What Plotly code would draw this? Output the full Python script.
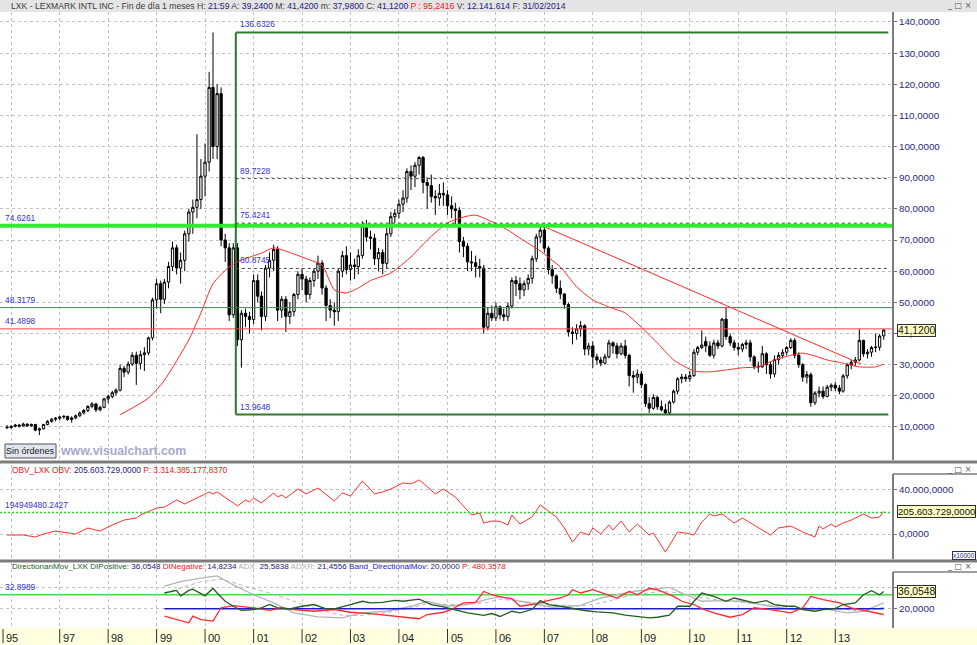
import plotly.graph_objects as go
import pandas as pd

# ---------------- DATA (monthly candles, Dec 1995 .. Jan 2014) ----------------
first_month = "1995-12-01"

opens = [
 10.0,
 9.8, 10.2, 10.6, 10.3, 10.9, 10.4, 10.8, 9.0, 9.4, 10.8, 11.8, 12.5,        # 1996
 12.8, 13.2, 13.4, 12.4, 12.9, 13.6, 14.5, 15.3, 16.6, 17.4, 15.5, 16.3,     # 1997
 19.0, 19.8, 21.0, 21.8, 28.8, 27.6, 30.2, 33.0, 30.4, 33.2, 33.8, 38.6,     # 1998
 50.8, 56.0, 51.0, 56.5, 61.5, 67.5, 61.0, 63.5, 72.0, 79.0, 80.5, 83.0,     # 1999
 90.5, 95, 119, 100, 117, 70, 67.5, 46, 67.5, 38, 46.5, 45.5,                # 2000
 44.5, 57, 52, 45.5, 61, 63.5, 67, 47.5, 51, 45.5, 47, 52.5,                 # 2001
 59, 57.5, 52.5, 57, 60, 62.6, 54.6, 49, 47.5, 47, 60, 65,                   # 2002
 60.5, 62, 61.5, 65, 74.5, 71, 70.6, 64, 66, 62.5, 72, 77.5,                 # 2003
 78.6, 81.5, 83.5, 92, 90.5, 94, 96.5, 88.5, 87.5, 84, 83.5, 85,             # 2004
 84.5, 81, 80, 79.5, 69.5, 68, 63, 62.7, 61.5, 61, 42, 46.5,                 # 2005
 45, 48.6, 46, 45.4, 48.8, 57, 56, 54, 56, 57.7, 64, 71,                     # 2006
 73.2, 67.4, 60.5, 58.5, 54.5, 52.7, 49.3, 40.5, 40, 41.5, 42.5, 35,         # 2007
 36, 32.5, 31.5, 30.5, 32.5, 37, 36, 33.5, 36, 33, 26.5, 26,                 # 2008
 27, 23.6, 17.5, 16, 19.5, 16.5, 15.5, 14.5, 18, 21.5, 25.5, 26,             # 2009
 25.5, 26.5, 34, 35.5, 37.5, 36, 33, 37, 36, 44.6, 39, 37,                   # 2010
 35.5, 35, 36.5, 37, 32.5, 29.5, 29.3, 33.5, 30, 27, 31.6, 33,               # 2011
 34, 35.5, 37.8, 33, 30, 26, 26.8, 17.8, 20.9, 21.5, 19.8, 22.8,             # 2012
 23.4, 22.5, 21.5, 26.4, 30, 30.8, 31.5, 37.8, 33.5, 34, 35.5, 35.6,         # 2013
 39.24]                                                                      # 2014-01

highs = [
 10.6,
 10.6, 11.0, 11.0, 11.4, 11.2, 11.1, 11.0, 9.8, 11.0, 12.2, 12.8, 13.2,
 13.6, 13.8, 13.6, 13.4, 14.0, 15.0, 15.8, 17.0, 18.0, 17.8, 16.8, 19.4,
 20.4, 21.6, 22.4, 30.0, 29.6, 31.0, 34.0, 34.2, 34.5, 35.6, 39.0, 51.5,
 57.5, 57.0, 57.5, 63.0, 69.5, 68.5, 66.0, 73.0, 80.0, 83.0, 104.0, 96.0,
 101, 124, 136.63, 120, 119, 72, 69, 69, 69, 47.5, 48, 47,
 59, 59, 53.5, 62, 66, 68.5, 68, 52, 52, 50, 53, 60,
 61, 58.5, 58, 61, 65, 63.5, 55.5, 51, 50, 61, 66.5, 68,
 66, 64, 67, 76, 76.5, 73, 72, 67.5, 67, 74, 79, 80,
 83, 86, 93, 94, 95, 97, 97, 90, 91, 86, 88, 88.5,
 86, 84, 82, 80.5, 71, 69, 66.5, 65, 64, 62, 48.5, 49,
 50, 49, 48, 50, 58, 58.5, 58, 57, 59, 65, 72, 74.6,
 74.6, 68, 62, 59, 57, 53, 50, 42, 43, 44, 43, 37,
 37.5, 33.5, 32.5, 33.5, 38, 37.5, 37, 37, 38, 33.5, 28, 28.5,
 28, 24, 19.6, 20.5, 20, 18.5, 17.5, 18.5, 22, 26, 27, 27,
 28, 35, 36, 41, 39, 37.5, 38, 38, 45, 48.32, 40, 38,
 37, 37, 38, 38, 33, 31, 36, 34, 31, 33, 34, 35,
 36, 38.5, 38.5, 34, 30.5, 28, 27.5, 21.5, 23, 23, 23.5, 24,
 24.5, 23.5, 27, 30.5, 31.5, 32.5, 41.5, 38, 35, 36, 40, 39.8,
 41.42]

lows = [
 9.3,
 9.4, 9.9, 9.8, 10.1, 10.0, 10.0, 8.6, 7.4, 9.2, 10.5, 11.4, 11.8,
 12.2, 12.6, 12.0, 11.4, 12.5, 13.2, 14.0, 14.8, 16.0, 14.8, 15.0, 16.0,
 17.6, 19.2, 20.2, 21.4, 26.0, 26.8, 29.6, 23.5, 28.5, 28.0, 33.0, 37.8,
 48, 46.5, 49.5, 54.5, 60, 59, 56, 60, 69.5, 72, 77, 80,
 84, 92, 96, 96, 68, 63, 44, 45, 36, 29, 42, 40,
 43, 50, 41, 44, 58, 60, 44, 45, 40.5, 43, 45.5, 51,
 54, 50, 51, 55, 57.5, 52.5, 44, 45, 42.5, 44, 58, 59,
 57, 57.5, 59, 64, 69.5, 67, 62, 60, 59, 61, 71, 75.5,
 77, 79, 82, 86, 87, 91, 85, 80, 82, 78, 81, 81,
 78, 77, 75, 66, 64.5, 60, 60, 58, 58, 40, 41, 44,
 44, 44.5, 44, 44, 48, 52, 51, 52, 54, 56, 63, 69,
 66, 59, 56, 53, 51, 48, 39, 36.5, 38, 39, 33, 33,
 29, 30, 29.5, 30, 32, 33.5, 32, 33, 32, 23, 21, 24,
 22.5, 16.5, 14.5, 15.5, 15.5, 15, 13.96, 14, 17.5, 20.5, 24, 24.5,
 24.5, 26, 33, 35, 34, 32.5, 32, 35, 35.5, 38, 36, 34.5,
 33, 34, 35, 31, 28.5, 27.5, 29, 27, 25.5, 26, 30, 32,
 33, 35, 32, 29, 24.5, 24, 16.5, 17, 19.5, 19, 19.5, 21.5,
 21.5, 20.5, 21, 25.5, 28.5, 29.5, 31, 32.5, 32, 32.5, 34, 34.5,
 37.98]

closes = [
 9.8,
 10.2, 10.6, 10.3, 10.9, 10.4, 10.8, 9.0, 9.4, 10.8, 11.8, 12.5, 12.8,
 13.2, 13.4, 12.4, 12.9, 13.6, 14.5, 15.3, 16.6, 17.4, 15.5, 16.3, 19.0,
 19.8, 21.0, 21.8, 28.8, 27.6, 30.2, 33.0, 30.4, 33.2, 33.8, 38.6, 50.8,
 56.0, 51.0, 56.5, 61.5, 67.5, 61.0, 63.5, 72.0, 79.0, 80.5, 83.0, 90.5,
 95, 119, 100, 117, 70, 67.5, 46, 67.5, 38, 46.5, 45.5, 44.5,
 57, 52, 45.5, 61, 63.5, 67, 47.5, 51, 45.5, 47, 52.5, 59,
 57.5, 52.5, 57, 60, 62.6, 54.6, 49, 47.5, 47, 60, 65, 60.5,
 62, 61.5, 65, 74.5, 71, 70.6, 64, 66, 62.5, 72, 77.5, 78.6,
 81.5, 83.5, 92, 90.5, 94, 96.5, 88.5, 87.5, 84, 83.5, 85, 84.5,
 81, 80, 79.5, 69.5, 68, 63, 62.7, 61.5, 61, 42, 46.5, 45,
 48.6, 46, 45.4, 48.8, 57, 56, 54, 56, 57.7, 64, 71, 73.2,
 67.4, 60.5, 58.5, 54.5, 52.7, 49.3, 40.5, 40, 41.5, 42.5, 35, 36,
 32.5, 31.5, 30.5, 32.5, 37, 36, 33.5, 36, 33, 26.5, 26, 27,
 23.6, 17.5, 16, 19.5, 16.5, 15.5, 14.5, 18, 21.5, 25.5, 26, 25.5,
 26.5, 34, 35.5, 36.3, 36, 33, 37, 36, 44.6, 39, 37, 35.5,
 35, 36.5, 37, 32.5, 29.5, 29.3, 33.5, 30, 27, 31.6, 33, 34,
 35.5, 37.8, 33, 30, 26, 26.8, 17.8, 20.9, 21.5, 19.8, 22.8, 23.4,
 22.5, 21.5, 26.4, 30, 30.8, 31.5, 37.8, 33.5, 34, 35.5, 35.6, 39.2,
 41.12]

# moving average (month, value)
ma_line = [("1998-04", 13.9), ("1998-11", 19.3), ("1999-03", 25), ("1999-09", 38), ("1999-12", 46.6),
           ("2000-03", 56), ("2000-07", 61.4), ("2000-10", 63.6), ("2001-03", 65.8), ("2001-06", 67.5),
           ("2001-10", 66), ("2002-03", 63.6), ("2002-06", 62), ("2002-09", 54), ("2002-12", 53),
           ("2003-03", 54.6), ("2003-06", 57), ("2003-11", 59.4), ("2004-04", 64.6), ("2004-08", 70),
           ("2005-01", 75.5), ("2005-05", 77.4), ("2005-08", 78), ("2005-11", 76.5), ("2006-04", 73.2),
           ("2006-07", 70.6), ("2006-12", 66.5), ("2007-03", 63.5), ("2007-05", 61.4), ("2007-09", 55),
           ("2008-01", 50.8), ("2008-05", 48.5), ("2008-09", 46.6), ("2009-01", 42), ("2009-05", 37),
           ("2009-09", 31.5), ("2010-02", 28), ("2010-06", 27.7), ("2010-10", 28.3), ("2011-02", 29),
           ("2011-06", 29.3), ("2011-10", 31.5), ("2012-02", 33), ("2012-05", 33.7), ("2012-08", 32.8),
           ("2012-11", 31.5), ("2013-03", 30.5), ("2013-07", 29.3), ("2013-11", 29.3), ("2014-01", 30.2)]

trend_line = [("2006-12-15", 74.6), ("2013-07-15", 30.2)]

# horizontal levels
level_green = 74.6261
level_teal = 48.3179
level_red = 41.4898
box_high = 136.6326
box_low = 13.9648
fib_levels = [89.7228, 75.4241, 60.8745]
box_start = "2000-08-20"
box_end = "2014-02-05"
last_close = 41.12

# OBV (millions of shares)
obv = [("1995-12", -9), ("1996-04", -9), ("1996-07", -27), ("1996-09", 0), ("1996-12", 27), ("1997-02", 18),
       ("1997-05", 0), ("1997-08", 55), ("1997-11", 27), ("1998-02", 82), ("1998-05", 127), ("1998-08", 145),
       ("1998-09", 173), ("1999-01", 236), ("1999-03", 245), ("1999-06", 309), ("1999-08", 273), ("1999-11", 327),
       ("2000-02", 382), ("2000-03", 364), ("2000-04", 382), ("2000-08", 282), ("2000-09", 255), ("2000-11", 309),
       ("2000-12", 291), ("2001-01", 327), ("2001-03", 282), ("2001-06", 373), ("2001-07", 336), ("2001-08", 355),
       ("2001-09", 327), ("2001-12", 409), ("2002-02", 364), ("2002-05", 418), ("2002-08", 336), ("2002-09", 300),
       ("2002-11", 373), ("2003-01", 345), ("2003-04", 482), ("2003-07", 364), ("2003-09", 382), ("2003-11", 409),
       ("2004-02", 464), ("2004-04", 455), ("2004-06", 491), ("2004-07", 464), ("2004-10", 364), ("2004-12", 409),
       ("2005-03", 336), ("2005-07", 173), ("2005-09", 191), ("2005-10", 100), ("2005-12", 118), ("2006-02", 115),
       ("2006-04", 82), ("2006-05", 173), ("2006-07", 91), ("2006-10", 155), ("2006-12", 264), ("2007-04", 155),
       ("2007-06", 55), ("2007-08", -73), ("2007-10", 18), ("2007-12", -9), ("2008-01", 55), ("2008-03", 0),
       ("2008-05", 82), ("2008-06", 36), ("2008-08", 118), ("2008-10", 18), ("2008-12", 91), ("2009-03", -9),
       ("2009-04", 9), ("2009-07", -164), ("2009-10", 18), ("2009-12", 9), ("2010-02", -9), ("2010-04", 109),
       ("2010-06", 182), ("2010-07", 164), ("2010-09", 182), ("2010-12", 100), ("2011-02", 145), ("2011-06", 55),
       ("2011-09", -9), ("2011-11", 55), ("2012-02", 73), ("2012-05", 18), ("2012-08", -27), ("2012-09", 73),
       ("2012-10", 45), ("2012-12", 91), ("2013-01", 64), ("2013-03", 100), ("2013-05", 127), ("2013-08", 182),
       ("2013-10", 145), ("2013-12", 155), ("2014-01", 205.6)]
obv_level = 194.9494802427

# Directional movement
di_plus = [("1999-03", 34.6), ("1999-06", 37), ("1999-07", 32), ("1999-09", 37), ("1999-10", 38.2), ("2000-01", 32),
           ("2000-03", 39), ("2000-04", 34.6), ("2000-06", 27), ("2000-08", 22.4), ("2000-10", 18.7), ("2001-01", 19.4),
           ("2001-03", 21), ("2001-05", 24), ("2001-07", 21), ("2001-10", 20), ("2002-01", 22.4), ("2002-04", 24),
           ("2002-07", 20), ("2002-09", 20), ("2003-01", 24), ("2003-04", 27), ("2003-06", 25.5), ("2003-09", 26),
           ("2003-12", 27.8), ("2004-02", 27), ("2004-06", 29), ("2004-09", 24), ("2004-12", 21.8), ("2005-03", 19.4),
           ("2005-06", 16.4), ("2005-10", 14), ("2005-12", 15.7), ("2006-02", 13), ("2006-05", 17.8), ("2006-07", 16.4),
           ("2006-10", 19.4), ("2006-12", 27.6), ("2007-02", 24), ("2007-05", 22.4), ("2007-09", 19.4), ("2007-11", 18.5),
           ("2008-02", 17.3), ("2008-06", 16.4), ("2008-09", 14.2), ("2008-12", 13.3), ("2009-03", 11.8), ("2009-05", 12.3),
           ("2009-08", 14.2), ("2009-10", 22.4), ("2010-01", 22.4), ("2010-02", 27), ("2010-04", 34.6), ("2010-07", 31.5),
           ("2010-10", 27), ("2010-12", 30), ("2011-03", 27), ("2011-05", 25.5), ("2011-08", 27.6), ("2011-10", 24),
           ("2012-01", 22.4), ("2012-03", 22.4), ("2012-05", 19.4), ("2012-08", 17.8), ("2012-10", 19.4), ("2013-01", 20.3),
           ("2013-03", 24), ("2013-06", 25.5), ("2013-08", 33), ("2013-10", 36.7), ("2013-12", 33), ("2014-01", 36.0548)]
di_minus = [("1999-03", 13.3), ("1999-06", 10.2), ("1999-09", 7.2), ("1999-10", 13.3), ("1999-12", 10.2), ("2000-03", 8.7),
            ("2000-05", 21), ("2000-08", 23), ("2000-10", 22.4), ("2001-01", 21), ("2001-05", 18.7), ("2001-08", 21),
            ("2001-11", 19.4), ("2002-04", 17.8), ("2002-09", 19.4), ("2003-01", 16.9), ("2003-06", 15.7), ("2003-10", 14),
            ("2004-02", 12.7), ("2004-06", 10.9), ("2004-08", 14.8), ("2004-12", 16.9), ("2005-02", 19.4), ("2005-05", 25.5),
            ("2005-08", 26), ("2005-10", 36), ("2005-12", 33), ("2006-02", 31), ("2006-05", 29.4), ("2006-07", 22.4),
            ("2006-11", 24.6), ("2007-01", 27), ("2007-05", 30), ("2007-07", 33), ("2007-08", 37.6), ("2007-10", 34.6),
            ("2008-01", 37.6), ("2008-04", 33.7), ("2008-07", 30), ("2008-10", 36), ("2008-12", 33), ("2009-03", 39),
            ("2009-05", 37.6), ("2009-09", 31.5), ("2009-11", 27), ("2010-02", 24), ("2010-04", 20.3), ("2010-07", 16.4),
            ("2010-11", 12.3), ("2011-02", 14.8), ("2011-05", 21), ("2011-09", 19.4), ("2011-12", 17.3), ("2012-02", 16.4),
            ("2012-05", 21), ("2012-07", 31.5), ("2012-10", 28.5), ("2013-02", 25.5), ("2013-05", 21), ("2013-08", 18.5),
            ("2013-10", 17.3), ("2013-12", 15.4), ("2014-01", 14.8234)]
adx = [("1999-03", 41), ("1999-07", 45), ("1999-12", 48.3), ("2000-04", 50.4), ("2000-08", 42), ("2001-01", 33),
       ("2001-06", 25.5), ("2001-11", 16.4), ("2002-05", 12.7), ("2002-11", 11.8), ("2003-04", 16.4), ("2003-10", 17.8),
       ("2004-04", 22.4), ("2004-08", 27), ("2005-01", 22.4), ("2005-06", 24), ("2005-11", 29), ("2006-02", 31.3),
       ("2006-07", 27), ("2007-03", 21.5), ("2007-10", 23.3), ("2008-03", 30), ("2008-11", 36), ("2009-08", 39.7),
       ("2009-12", 33), ("2010-04", 27), ("2010-09", 27.6), ("2011-02", 27), ("2011-09", 22.4), ("2012-03", 19.4),
       ("2012-10", 20.3), ("2013-04", 16.4), ("2013-08", 17.8), ("2013-11", 22.4), ("2014-01", 25.5838)]
adxr = [("1999-03", 34.6), ("1999-07", 39), ("1999-12", 45), ("2000-05", 47.3), ("2000-10", 42), ("2001-05", 34.6),
        ("2001-11", 27), ("2002-05", 19.4), ("2002-11", 14), ("2003-04", 14), ("2003-10", 16.4), ("2004-04", 21),
        ("2004-08", 24.8), ("2005-01", 24), ("2005-06", 24), ("2005-11", 26), ("2006-02", 29), ("2006-07", 27),
        ("2007-03", 24), ("2007-10", 22.4), ("2008-03", 25.5), ("2008-11", 33), ("2009-06", 36), ("2009-11", 34.6),
        ("2010-04", 30), ("2010-11", 27), ("2011-05", 24.6), ("2011-12", 22.4), ("2012-06", 21), ("2013-01", 20.3),
        ("2013-08", 17.8), ("2014-01", 21.4556)]
band_value = 20.0
band_span = ["1999-03", "2014-01"]
dmi_level = 32.8989

year_ticks = ["1995-11-01"] + [f"{y}-01-01" for y in range(1997, 2014)]
year_labels = ["95", "97", "98", "99", "00", "01", "02", "03", "04", "05", "06", "07", "08", "09", "10", "11", "12", "13"]
grid_years = [f"{y}-01-01" for y in range(1996, 2014)]

# ---------------- FIGURE ----------------
W, H, PLOT_W = 977, 645, 893
FONT = "Liberation Sans, Arial, sans-serif"
BLUE = "#3434d2"
NAVY = "#2b2b7e"
XR = W / PLOT_W


def py(pix):
    return 1 - pix / H


def pxp(pix):
    return pix / PLOT_W


months = pd.date_range(first_month, periods=len(closes), freq="MS")

fig = go.Figure()
fig.add_trace(go.Candlestick(
    x=months, open=opens, high=highs, low=lows, close=closes,
    increasing=dict(line=dict(color="black", width=1), fillcolor="white"),
    decreasing=dict(line=dict(color="black", width=1), fillcolor="black"),
    whiskerwidth=0, hoverinfo="skip", xaxis="x", yaxis="y"))

fig.add_trace(go.Scatter(x=[d for d, _ in ma_line], y=[v for _, v in ma_line], mode="lines",
                         line=dict(color="#ff2a2a", width=1, shape="spline", smoothing=0.6),
                         hoverinfo="skip", xaxis="x", yaxis="y"))
fig.add_trace(go.Scatter(x=[d for d, _ in trend_line], y=[v for _, v in trend_line], mode="lines",
                         line=dict(color="#ff2a2a", width=1), hoverinfo="skip", xaxis="x", yaxis="y"))

fig.add_trace(go.Scatter(x=[d for d, _ in obv], y=[v for _, v in obv], mode="lines",
                         line=dict(color="#ff3030", width=1), hoverinfo="skip", xaxis="x", yaxis="y2"))

fig.add_trace(go.Scatter(x=[d for d, _ in adxr], y=[v for _, v in adxr], mode="lines",
                         line=dict(color="#b8b8b8", width=1, dash="4px,3px"), hoverinfo="skip", xaxis="x", yaxis="y3"))
fig.add_trace(go.Scatter(x=[d for d, _ in adx], y=[v for _, v in adx], mode="lines",
                         line=dict(color="#b4b4b4", width=1.3), hoverinfo="skip", xaxis="x", yaxis="y3"))
fig.add_trace(go.Scatter(x=band_span, y=[band_value, band_value], mode="lines",
                         line=dict(color="#1c1cc8", width=1.5), hoverinfo="skip", xaxis="x", yaxis="y3"))
fig.add_trace(go.Scatter(x=[d for d, _ in di_minus], y=[v for _, v in di_minus], mode="lines",
                         line=dict(color="#ff2a2a", width=1.3), hoverinfo="skip", xaxis="x", yaxis="y3"))
fig.add_trace(go.Scatter(x=[d for d, _ in di_plus], y=[v for _, v in di_plus], mode="lines",
                         line=dict(color="#1f5f1f", width=1.3), hoverinfo="skip", xaxis="x", yaxis="y3"))

shapes = []
annotations = []

# title bar
shapes.append(dict(type="rect", xref="paper", yref="paper", x0=0, x1=XR, y0=py(12), y1=1,
                   fillcolor="#e4e4e4", line=dict(width=0), layer="above"))
# main panel levels (drawn over the candles, as in the reference)
shapes.append(dict(type="line", xref="paper", yref="y", x0=0, x1=1, y0=level_teal, y1=level_teal,
                   line=dict(color="#3d8a5a", width=1), layer="above"))
shapes.append(dict(type="line", xref="paper", yref="y", x0=0, x1=1, y0=level_red, y1=level_red,
                   line=dict(color="#ff4040", width=1), layer="above"))
shapes.append(dict(type="line", xref="paper", yref="y", x0=0, x1=1, y0=level_green, y1=level_green,
                   line=dict(color="#2fec2f", width=4), layer="above"))
# box
for yv in (box_high, box_low):
    shapes.append(dict(type="line", xref="x", yref="y", x0=box_start, x1=box_end, y0=yv, y1=yv,
                       line=dict(color="#2e7a2e", width=2), layer="above"))
shapes.append(dict(type="line", xref="x", yref="y", x0=box_start, x1=box_start, y0=box_low, y1=box_high,
                   line=dict(color="#2e7a2e", width=2), layer="above"))
for fv in fib_levels:
    shapes.append(dict(type="line", xref="x", yref="y", x0=box_start, x1=box_end, y0=fv, y1=fv,
                       line=dict(color="#4a4a4a", width=1, dash="3px,3px"), layer="above"))
# OBV level & DMI level
shapes.append(dict(type="line", xref="paper", yref="y2", x0=0, x1=1, y0=obv_level, y1=obv_level,
                   line=dict(color="#22dd22", width=1.5, dash="2px,2px"), layer="above"))
shapes.append(dict(type="line", xref="paper", yref="y3", x0=0, x1=1, y0=dmi_level, y1=dmi_level,
                   line=dict(color="#44dd44", width=1.5), layer="below"))

# separators
for yp in (462, 561):
    shapes.append(dict(type="line", xref="paper", yref="paper", x0=0, x1=XR, y0=py(yp), y1=py(yp),
                       line=dict(color="#7c7c7c", width=3), layer="above"))
# right axis frame lines
for (ya, yb) in ((12, 460), (474, 559), (572, 628)):
    shapes.append(dict(type="line", xref="paper", yref="paper", x0=1, x1=1, y0=py(yb), y1=py(ya),
                       line=dict(color="#7c7c7c", width=2), layer="above"))
for yt in (474, 572):
    shapes.append(dict(type="line", xref="paper", yref="paper", x0=1, x1=XR, y0=py(yt), y1=py(yt),
                       line=dict(color="#7c7c7c", width=1.5), layer="above"))
# bottom date strip
shapes.append(dict(type="rect", xref="paper", yref="paper", x0=0, x1=XR, y0=0, y1=py(628),
                   fillcolor="#ffffe0", line=dict(width=0), layer="above"))
for t in year_ticks:
    shapes.append(dict(type="line", xref="x", yref="paper", x0=t, x1=t, y0=py(643), y1=py(629),
                       line=dict(color="#303030", width=1), layer="above"))
for t, lab in zip(year_ticks, year_labels):
    annotations.append(dict(x=t, xref="x", y=py(637.5), yref="paper", text=lab, showarrow=False,
                            xanchor="left", yanchor="middle", xshift=1,
                            font=dict(family=FONT, size=11, color="#202020")))

# Sin ordenes button
shapes.append(dict(type="rect", xref="paper", yref="paper", x0=pxp(5), x1=pxp(56), y0=py(458), y1=py(444),
                   fillcolor="#dfe6f2", line=dict(color="#555555", width=1), layer="above"))
annotations.append(dict(x=pxp(30.5), xref="paper", y=py(451), yref="paper", text="Sin órdenes", showarrow=False,
                        xanchor="center", yanchor="middle", font=dict(family=FONT, size=9, color="#202020")))
annotations.append(dict(x=pxp(58), xref="paper", y=py(451), yref="paper", text="<b>www.visualchart.com</b>",
                        showarrow=False, xanchor="left", yanchor="middle",
                        font=dict(family=FONT, size=12.3, color="#a6aacb")))


def span(t, c):
    return f'<span style="color:{c}">{t}</span>'


G = "#3c3c3c"
N = "#22227a"
R = "#e82020"
title_txt = (span("LXK - LEXMARK INTL INC - Fin de día 1 meses H: ", G) + span("21:59", N) +
             span(" A: ", G) + span("39,2400", N) + span(" M: ", G) + span("41,4200", N) +
             span(" m: ", G) + span("37,9800", N) + span(" C: ", G) + span("41,1200", N) +
             span(" P : 95,2416", R) + span(" V: ", G) + span("12.141.614", N) +
             span(" F: ", G) + span("31/02/2014", N))
annotations.append(dict(x=pxp(9), xref="paper", y=py(6), yref="paper", text=title_txt, showarrow=False,
                        xanchor="left", yanchor="middle", font=dict(family=FONT, size=8.6, color=G)))

obv_txt = span("OBV_LXK OBV: ", R) + span("205.603.729,0000", N) + span(" P: 3.314.385.177,8370", R)
annotations.append(dict(x=pxp(10), xref="paper", y=py(470), yref="paper", text=obv_txt, showarrow=False,
                        xanchor="left", yanchor="middle", font=dict(family=FONT, size=8.3, color=R)))
LG = "#b0b0b0"
dmi_txt = (span("DirectionanMov_LXK DIPositive: ", "#1f5f1f") + span("36,0548", N) +
           span(" DINegative: ", R) + span("14,8234", N) + span(" ADX: ", LG) + span("25,5838", N) +
           span(" ADXR: ", LG) + span("21,4556", N) + span(" Band_DirectionalMov: ", "#2020c8") +
           span("20,0000", N) + span(" P: 480,3578", R))
annotations.append(dict(x=pxp(10), xref="paper", y=py(566.5), yref="paper", text=dmi_txt, showarrow=False,
                        xanchor="left", yanchor="middle", font=dict(family=FONT, size=8.1, color=N)))

# window buttons
for yb in (6, 469, 566):
    annotations.append(dict(x=pxp(973), xref="paper", y=py(yb), yref="paper", text="_ □ ×", showarrow=False,
                            xanchor="right", yanchor="middle",
                            font=dict(family="DejaVu Sans", size=8, color="#555555")))

# left level labels
for val, txt, yref in ((level_green, "74.6261", "y"), (level_teal, "48.3179", "y"),
                       (level_red, "41.4898", "y"), (obv_level, "194949480.2427", "y2"),
                       (dmi_level, "32.8989", "y3")):
    annotations.append(dict(x=pxp(3), xref="paper", y=val, yref=yref, text=txt, showarrow=False,
                            xanchor="left", yanchor="bottom", yshift=1,
                            font=dict(family=FONT, size=8.4, color=BLUE)))
# box / fib labels
for val, txt in ((box_high, "136.6326"), (fib_levels[0], "89.7228"), (fib_levels[1], "75.4241"),
                 (fib_levels[2], "60.8745"), (box_low, "13.9648")):
    annotations.append(dict(x=box_start, xref="x", y=val, yref="y", text=txt, showarrow=False,
                            xanchor="left", yanchor="bottom", xshift=2, yshift=1,
                            font=dict(family=FONT, size=8.4, color=BLUE)))

# value boxes on the right axis
for val, txt, yref, fs in ((last_close, "41,1200", "y", 10.3), (205.6037, "205.603.729,0000", "y2", 9.6),
                           (36.0548, "36,0548", "y3", 10.3)):
    annotations.append(dict(x=pxp(897), xref="paper", y=val, yref=yref, text=txt, showarrow=False,
                            xanchor="left", yanchor="middle", bgcolor="#ffffc4", bordercolor="#303030",
                            borderwidth=1, borderpad=0, font=dict(family=FONT, size=fs, color="#101010")))
annotations.append(dict(x=pxp(976), xref="paper", y=py(555), yref="paper", text="x10000", showarrow=False,
                        xanchor="right", yanchor="middle", bordercolor=NAVY, borderwidth=1, borderpad=0,
                        font=dict(family=FONT, size=6.5, color=NAVY)))

axis_font = dict(family=FONT, size=9.8, color=NAVY)
price_ticks = list(range(10, 150, 10))

fig.update_layout(
    width=W, height=H, margin=dict(l=0, r=W - PLOT_W, t=0, b=0),
    paper_bgcolor="white", plot_bgcolor="white", showlegend=False, hovermode=False,
    boxgap=0.12,
    xaxis=dict(type="date", domain=[0, 1], anchor="y3", range=["1995-10-09", "2014-03-12"],
               tickmode="array", tickvals=grid_years, showticklabels=False, ticks="",
               showgrid=True, gridcolor="#c2c2c2", griddash="dot", gridwidth=1,
               zeroline=False, showline=False, rangeslider=dict(visible=False), fixedrange=True),
    yaxis=dict(domain=[py(460), py(12)], range=[-0.6, 143.2], side="right", anchor="x",
               tickmode="array", tickvals=price_ticks, ticktext=[f"{v},0000" for v in price_ticks],
               showgrid=True, gridcolor="#c2c2c2", griddash="dot", zeroline=False, showline=False,
               ticks="outside", ticklen=3, tickcolor="#707070", tickfont=axis_font, fixedrange=True),
    yaxis2=dict(domain=[py(559), py(465)], range=[-227, 627], side="right", anchor="x",
                tickmode="array", tickvals=[0, 400], ticktext=["0,0000", "40.000,0000"],
                showgrid=True, gridcolor="#c2c2c2", griddash="dot", zeroline=False, showline=False,
                ticks="outside", ticklen=3, tickcolor="#707070", tickfont=axis_font, fixedrange=True),
    yaxis3=dict(domain=[py(628), py(563)], range=[2.4, 62.2], side="right", anchor="x",
                tickmode="array", tickvals=[20, 40], ticktext=["20,0000", ""],
                showgrid=True, gridcolor="#c2c2c2", griddash="dot", zeroline=False, showline=False,
                ticks="outside", ticklen=3, tickcolor="#707070", tickfont=axis_font, fixedrange=True),
    shapes=shapes, annotations=annotations,
)

fig.write_html("out.html", config={"displayModeBar": False},
               post_script="document.body.style.margin='0';document.body.style.padding='0';"
                           "document.body.style.overflow='hidden';")
